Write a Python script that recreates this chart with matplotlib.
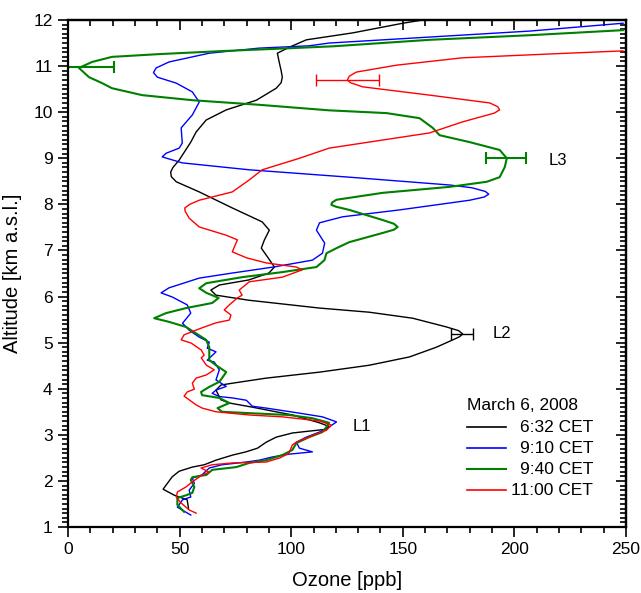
import matplotlib
matplotlib.use("Agg")
import matplotlib.pyplot as plt
from matplotlib.ticker import MultipleLocator

plt.rcParams['font.family'] = ['Liberation Sans', 'DejaVu Sans']

# ---------------- data ----------------
alt_0632 = [1.40, 1.59, 1.69, 1.82, 2.09, 2.21, 2.30, 2.35, 2.45, 2.56, 2.63, 2.71, 2.84, 2.95,
            3.04, 3.08, 3.12, 3.18, 3.26, 3.43, 3.60, 3.69, 3.76, 3.97, 4.08, 4.12, 4.23, 4.36,
            4.51, 4.69, 4.90, 5.06, 5.13, 5.19, 5.26, 5.34, 5.53, 5.66, 5.75, 5.92, 6.03, 6.14, 6.25, 6.36,
            6.51, 6.64, 6.90, 7.05, 7.23, 7.44, 7.62, 7.92, 8.27, 8.49, 8.60, 8.70, 8.80, 8.96, 9.35, 9.57,
            9.83, 10.05, 10.26, 10.52, 10.64, 10.76, 10.90, 11.07, 11.28, 11.41, 11.57, 11.72, 11.93, 12.00]
oz_0632 = [54.0, 53.4, 47.6, 42.6, 46.7, 49.8, 55.7, 61.0, 66.3, 73.7, 79.7, 84.9, 88.8, 93.3,
           100.6, 108.0, 115.8, 117.0, 112.7, 100.6, 82.6, 72.3, 68.5, 66.3, 68.5, 73.7, 88.8, 112.7,
           135.0, 153.0, 165.0, 172.4, 175.5, 176.8, 175.0, 169.6, 154.4, 135.0, 112.7, 81.0, 66.3, 64.0, 67.8, 81.0,
           90.0, 92.5, 88.8, 86.6, 88.0, 90.2, 87.0, 73.7, 58.8, 48.5, 46.3, 46.0, 47.0, 49.8, 55.0, 57.4,
           61.9, 70.9, 84.4, 93.3, 95.5, 96.0, 95.5, 94.7, 93.8, 99.2, 106.8, 127.5, 150.0, 159.0]

alt_0910 = [1.26, 1.43, 1.59, 1.65, 1.80, 1.95, 2.06, 2.13, 2.28, 2.35, 2.41, 2.45, 2.52, 2.58,
            2.63, 2.71, 2.84, 2.95, 3.06, 3.17, 3.28, 3.39, 3.47, 3.58, 3.62, 3.75, 3.80, 3.83,
            3.90, 3.97, 4.05, 4.19, 4.41, 4.58, 4.62, 4.80, 4.88, 5.01, 5.12, 5.27, 5.42, 5.64,
            5.82, 5.99, 6.08, 6.19, 6.40, 6.51, 6.64, 6.79, 6.94, 7.16, 7.44, 7.60, 7.73, 7.88,
            8.09, 8.16, 8.22, 8.28, 8.36, 8.42, 8.59, 8.75, 8.90, 9.03, 9.11, 9.22, 9.33, 9.66, 9.94, 10.22,
            10.44, 10.63, 10.76, 10.86, 10.96, 11.09, 11.28, 11.39, 11.44, 11.50, 11.63, 11.76, 11.93]
oz_0910 = [55.0, 49.0, 51.3, 55.0, 54.3, 56.6, 55.7, 60.0, 63.3, 69.0, 79.9, 85.7, 91.6, 99.0,
           109.5, 103.7, 102.3, 106.8, 112.7, 117.0, 120.3, 114.0, 103.7, 88.8, 82.6, 79.9, 73.7, 67.8,
           64.6, 66.3, 70.9, 66.3, 67.8, 65.5, 62.4, 66.3, 62.4, 63.3, 58.8, 54.3, 51.3, 55.0,
           53.4, 46.7, 41.7, 45.3, 58.8, 73.6, 92.0, 109.5, 114.0, 115.0, 111.3, 112.7, 123.0, 148.6,
           180.0, 186.5, 188.5, 187.0, 181.0, 171.0, 126.0, 81.2, 51.2, 42.2, 44.0, 49.8, 51.2, 50.7, 55.7, 58.8,
           55.7, 48.5, 40.0, 38.3, 39.5, 45.3, 63.3, 85.7, 108.0, 117.0, 162.0, 207.0, 248.7]

alt_0940 = [1.33, 1.48, 1.63, 1.69, 1.74, 1.87, 2.02, 2.08, 2.13, 2.24, 2.30, 2.39, 2.45, 2.56,
            2.67, 2.82, 2.95, 3.06, 3.17, 3.26, 3.36, 3.43, 3.47, 3.50, 3.58, 3.69, 3.80, 3.86,
            3.93, 4.04, 4.15, 4.36, 4.51, 4.62, 4.90, 5.06, 5.34, 5.45, 5.53, 5.64, 5.75, 5.86,
            5.97, 6.08, 6.18, 6.29, 6.42, 6.53, 6.64, 6.79, 6.94, 7.05, 7.18, 7.38, 7.45, 7.51, 7.58, 7.66,
            7.88, 7.95, 7.99, 8.04, 8.10, 8.25, 8.38, 8.49, 8.59, 8.81, 9.00, 9.18, 9.35, 9.50, 9.66, 9.87,
            9.98, 10.04, 10.16, 10.26, 10.37, 10.52, 10.63, 10.76, 10.96, 11.09, 11.20, 11.26, 11.33,
            11.39, 11.43, 11.57, 11.67, 11.78]
oz_0940 = [52.0, 49.0, 49.0, 53.0, 55.7, 56.6, 55.0, 55.7, 62.0, 64.6, 75.4, 81.2, 88.8, 96.0,
           100.5, 102.3, 108.0, 114.0, 115.8, 117.0, 109.5, 99.0, 81.2, 69.0, 67.0, 72.3, 67.8, 60.1,
           59.6, 63.3, 67.8, 70.9, 66.3, 63.3, 63.3, 61.9, 52.9, 45.3, 38.6, 43.9, 52.9, 64.6,
           67.5, 62.0, 58.8, 62.0, 78.0, 96.0, 111.3, 114.9, 115.8, 120.3, 126.0, 141.0, 146.0, 147.7, 146.0, 141.0,
           126.0, 120.0, 118.0, 118.3, 120.3, 141.0, 171.0, 187.6, 193.4, 195.7, 196.6, 193.4, 180.0, 166.5, 163.4, 157.5,
           142.7, 117.0, 85.7, 55.7, 33.2, 19.7, 15.3, 9.4, 4.9, 10.8, 19.7, 40.8, 70.9,
           100.5, 119.0, 162.0, 207.0, 248.7]

alt_1100 = [1.30, 1.37, 1.52, 1.65, 1.76, 1.87, 1.98, 2.13, 2.19, 2.28, 2.35, 2.39, 2.41, 2.50,
            2.60, 2.78, 2.84, 2.95, 3.10, 3.21, 3.30, 3.39, 3.43, 3.50, 3.58, 3.65, 3.84, 3.93,
            3.99, 4.12, 4.23, 4.30, 4.41, 4.51, 4.67, 4.73, 4.84, 4.99, 5.06, 5.17, 5.32, 5.43,
            5.49, 5.60, 5.71, 5.82, 5.97, 6.03, 6.14, 6.32, 6.42, 6.58, 6.64, 6.73, 6.84, 6.97,
            7.23, 7.33, 7.51, 7.70, 7.85, 7.92, 8.00, 8.09, 8.27, 8.53, 8.75, 9.00, 9.22, 9.55, 9.79, 9.98, 10.05,
            10.12, 10.20, 10.37, 10.55, 10.64, 10.70, 10.78, 10.87, 11.02, 11.18, 11.26, 11.33]
oz_1100 = [57.4, 54.3, 50.7, 48.5, 49.0, 52.9, 55.7, 60.1, 63.3, 59.6, 64.6, 73.7, 88.8, 95.0,
           99.0, 100.5, 102.3, 108.0, 115.8, 118.0, 112.7, 96.0, 81.2, 66.3, 60.1, 57.4, 52.0, 53.4,
           56.6, 55.7, 57.4, 62.0, 65.5, 62.0, 59.7, 61.0, 59.7, 55.2, 50.7, 52.0, 60.0, 66.3,
           72.3, 73.0, 70.0, 72.3, 75.9, 78.0, 76.7, 81.2, 96.0, 105.0, 102.3, 88.8, 80.0, 73.6,
           75.9, 70.9, 58.8, 54.3, 52.5, 52.3, 54.5, 58.8, 73.6, 81.2, 87.0, 103.7, 117.0, 162.0, 176.8, 191.0, 193.4,
           192.5, 189.0, 162.0, 132.0, 126.5, 125.2, 126.0, 129.2, 147.2, 176.8, 214.5, 248.6]

times = ['6:32 CET', '9:10 CET', '9:40 CET', '11:00 CET']
colors = ['black', '#0000ff', '#008000', '#ff0000']
widths = [1.0, 1.0, 1.5, 1.0]
legend_title = 'March 6, 2008'

# error bars: (ozone, altitude, half-width, series index)
err_oz = [176.6, 5.0, 196.2, 125.2]
err_alt = [5.19, 10.97, 9.0, 10.70]
err_half = [4.9, 15.6, 8.8, 14.0]
err_series = [0, 2, 2, 3]

# layer labels
lay_text = ['L1', 'L2', 'L3']
lay_oz = [127.5, 190.3, 215.4]
lay_alt = [3.19, 5.19, 8.96]

# ---------------- plot ----------------
fig = plt.figure(figsize=(6.41, 5.93), dpi=100)
ax = fig.add_axes([68/641, 1 - 527/593, (626-68)/641, (527-20)/593])

series = [(oz_0632, alt_0632), (oz_0910, alt_0910), (oz_0940, alt_0940), (oz_1100, alt_1100)]
for (x, y), c, lw in zip(series, colors, widths):
    ax.plot(x, y, color=c, lw=lw, solid_joinstyle='round')

for ox, oy, h, s in zip(err_oz, err_alt, err_half, err_series):
    eb = ax.errorbar([ox], [oy], xerr=[h], fmt='none', ecolor=colors[s],
                     elinewidth=widths[s], capsize=4, capthick=widths[s])
    for art in eb.get_children():
        art.set_clip_on(True)

for t, x, y in zip(lay_text, lay_oz, lay_alt):
    ax.text(x, y, t, fontsize=12, ha='left', va='center')

ax.set_xlim(0, 250)
ax.set_ylim(1, 12)
ax.xaxis.set_major_locator(MultipleLocator(50))
ax.xaxis.set_minor_locator(MultipleLocator(10))
ax.yaxis.set_major_locator(MultipleLocator(1))
ax.yaxis.set_minor_locator(MultipleLocator(0.1))

ax.tick_params(which='both', direction='out', top=False, right=False, labelsize=12.5, width=1.2)
ax.tick_params(which='major', length=7, pad=4)
ax.tick_params(which='minor', length=4)
for sp in ax.spines.values():
    sp.set_linewidth(1.6)

# mirrored inward ticks on top and right
sec_x = ax.secondary_xaxis('top')
sec_x.xaxis.set_major_locator(MultipleLocator(50))
sec_x.xaxis.set_minor_locator(MultipleLocator(10))
sec_x.tick_params(which='both', direction='in', labeltop=False, width=1.2)
sec_x.tick_params(which='major', length=7)
sec_x.tick_params(which='minor', length=4)
sec_x.spines['top'].set_linewidth(1.6)
sec_y = ax.secondary_yaxis('right')
sec_y.yaxis.set_major_locator(MultipleLocator(1))
sec_y.yaxis.set_minor_locator(MultipleLocator(0.1))
sec_y.tick_params(which='both', direction='in', labelright=False, width=1.2)
sec_y.tick_params(which='major', length=7)
sec_y.tick_params(which='minor', length=4)
sec_y.spines['right'].set_linewidth(1.6)

ax.set_xlabel('Ozone [ppb]', fontsize=14.5, labelpad=10)
ax.set_ylabel('Altitude [km a.s.l.]', fontsize=14.5, labelpad=8)

# legend (Origin style: title, sample line, right-aligned labels)
ax.text(0.715, 0.2406, legend_title, transform=ax.transAxes, fontsize=12.5, ha='left', va='center')
for i, (lab, c, lw) in enumerate(zip(times, colors, widths)):
    yy = 0.197 - i * 0.0415
    ax.plot([0.715, 0.785], [yy, yy], transform=ax.transAxes, color=c, lw=max(lw, 1.2))
    ax.text(0.941, yy, lab, transform=ax.transAxes, fontsize=12.5, ha='right', va='center')

fig.savefig('out.png', dpi=100)
